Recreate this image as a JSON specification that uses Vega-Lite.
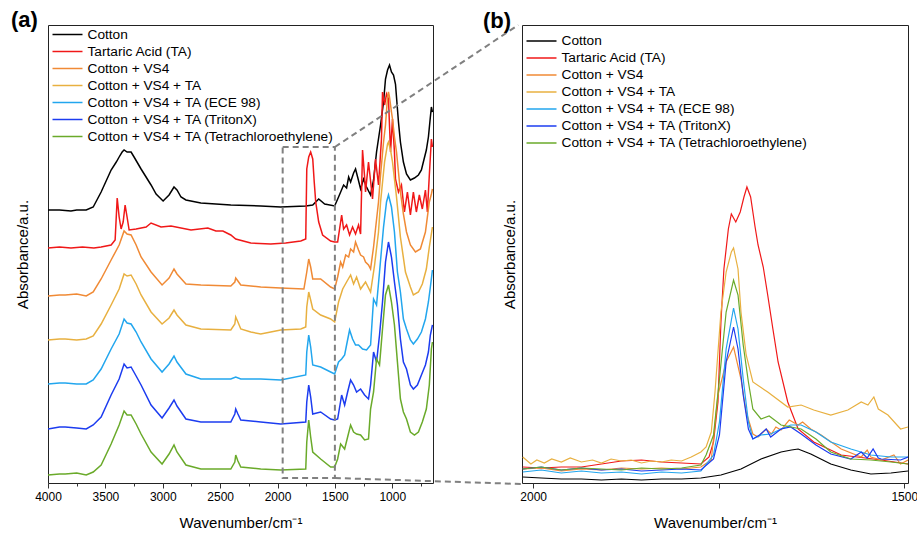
{
  "$schema": "https://vega.github.io/schema/vega-lite/v6.json",
  "padding": {"left": 10, "top": 8, "right": 8, "bottom": 5},
  "config": {
    "font": "Liberation Sans",
    "view": {"stroke": "#222222", "strokeWidth": 1},
    "axis": {"grid": false, "domain": false, "labelFontSize": 12, "labelColor": "#000000", "titleFontSize": 15, "titleFontWeight": "normal", "titleColor": "#000000", "tickColor": "#333333", "labelFlush": false, "labelOverlap": false},
    "title": {"fontSize": 22, "fontWeight": "bold", "anchor": "start", "frame": "group", "offset": 0, "baseline": "alphabetic", "color": "#000000"},
    "legend": {"orient": "none", "padding": 0, "symbolType": "M-2,0H2", "symbolSize": 225, "symbolStrokeWidth": 1.5, "labelFontSize": 13.7, "labelLimit": 400, "labelOffset": 11.5, "rowPadding": 1, "labelColor": "#000000"}
  },
  "datasets": {
    "a": [
      {"s":"Cotton","w":4000,"v":273},{"s":"Cotton","w":3900,"v":273},{"s":"Cotton","w":3800,"v":272},{"s":"Cotton","w":3750,"v":273},{"s":"Cotton","w":3700,"v":273},{"s":"Cotton","w":3667,"v":273},{"s":"Cotton","w":3606,"v":276},{"s":"Cotton","w":3537,"v":291},{"s":"Cotton","w":3450,"v":313},{"s":"Cotton","w":3405,"v":321},{"s":"Cotton","w":3380,"v":326},{"s":"Cotton","w":3354,"v":331},{"s":"Cotton","w":3337,"v":333},{"s":"Cotton","w":3311,"v":331},{"s":"Cotton","w":3276,"v":331},{"s":"Cotton","w":3250,"v":326},{"s":"Cotton","w":3189,"v":314},{"s":"Cotton","w":3102,"v":298},{"s":"Cotton","w":3058,"v":289},{"s":"Cotton","w":2997,"v":282},{"s":"Cotton","w":2945,"v":288},{"s":"Cotton","w":2902,"v":296},{"s":"Cotton","w":2876,"v":293},{"s":"Cotton","w":2841,"v":286},{"s":"Cotton","w":2798,"v":283},{"s":"Cotton","w":2668,"v":280},{"s":"Cotton","w":2407,"v":278},{"s":"Cotton","w":2146,"v":277},{"s":"Cotton","w":1972,"v":276},{"s":"Cotton","w":1754,"v":277},{"s":"Cotton","w":1693,"v":278},{"s":"Cotton","w":1641,"v":284},{"s":"Cotton","w":1589,"v":279},{"s":"Cotton","w":1502,"v":277},{"s":"Cotton","w":1468,"v":286},{"s":"Cotton","w":1424,"v":298},{"s":"Cotton","w":1398,"v":295},{"s":"Cotton","w":1380,"v":306},{"s":"Cotton","w":1363,"v":301},{"s":"Cotton","w":1337,"v":310},{"s":"Cotton","w":1320,"v":314},{"s":"Cotton","w":1302,"v":306},{"s":"Cotton","w":1276,"v":294},{"s":"Cotton","w":1250,"v":304},{"s":"Cotton","w":1224,"v":296},{"s":"Cotton","w":1189,"v":288},{"s":"Cotton","w":1163,"v":303},{"s":"Cotton","w":1137,"v":331},{"s":"Cotton","w":1102,"v":358},{"s":"Cotton","w":1076,"v":381},{"s":"Cotton","w":1059,"v":404},{"s":"Cotton","w":1041,"v":413},{"s":"Cotton","w":1024,"v":418},{"s":"Cotton","w":1007,"v":411},{"s":"Cotton","w":989,"v":408},{"s":"Cotton","w":972,"v":399},{"s":"Cotton","w":946,"v":361},{"s":"Cotton","w":929,"v":341},{"s":"Cotton","w":903,"v":321},{"s":"Cotton","w":876,"v":309},{"s":"Cotton","w":842,"v":303},{"s":"Cotton","w":807,"v":305},{"s":"Cotton","w":772,"v":308},{"s":"Cotton","w":746,"v":313},{"s":"Cotton","w":729,"v":321},{"s":"Cotton","w":703,"v":333},{"s":"Cotton","w":685,"v":346},{"s":"Cotton","w":668,"v":366},{"s":"Cotton","w":659,"v":376},{"s":"Cotton","w":650,"v":371},

      {"s":"Tartaric Acid (TA)","w":4000,"v":235},{"s":"Tartaric Acid (TA)","w":3900,"v":236},{"s":"Tartaric Acid (TA)","w":3800,"v":235},{"s":"Tartaric Acid (TA)","w":3700,"v":236},{"s":"Tartaric Acid (TA)","w":3600,"v":235},{"s":"Tartaric Acid (TA)","w":3537,"v":236},{"s":"Tartaric Acid (TA)","w":3450,"v":238},{"s":"Tartaric Acid (TA)","w":3415,"v":243},{"s":"Tartaric Acid (TA)","w":3397,"v":285},{"s":"Tartaric Acid (TA)","w":3380,"v":266},{"s":"Tartaric Acid (TA)","w":3363,"v":254},{"s":"Tartaric Acid (TA)","w":3345,"v":261},{"s":"Tartaric Acid (TA)","w":3328,"v":278},{"s":"Tartaric Acid (TA)","w":3311,"v":266},{"s":"Tartaric Acid (TA)","w":3293,"v":253},{"s":"Tartaric Acid (TA)","w":3232,"v":254},{"s":"Tartaric Acid (TA)","w":3145,"v":256},{"s":"Tartaric Acid (TA)","w":3102,"v":260},{"s":"Tartaric Acid (TA)","w":3015,"v":256},{"s":"Tartaric Acid (TA)","w":2928,"v":257},{"s":"Tartaric Acid (TA)","w":2754,"v":253},{"s":"Tartaric Acid (TA)","w":2607,"v":255},{"s":"Tartaric Acid (TA)","w":2537,"v":252},{"s":"Tartaric Acid (TA)","w":2476,"v":252},{"s":"Tartaric Acid (TA)","w":2407,"v":248},{"s":"Tartaric Acid (TA)","w":2364,"v":244},{"s":"Tartaric Acid (TA)","w":2233,"v":240},{"s":"Tartaric Acid (TA)","w":2059,"v":239},{"s":"Tartaric Acid (TA)","w":1929,"v":240},{"s":"Tartaric Acid (TA)","w":1797,"v":242},{"s":"Tartaric Acid (TA)","w":1754,"v":244},{"s":"Tartaric Acid (TA)","w":1745,"v":314},{"s":"Tartaric Acid (TA)","w":1728,"v":326},{"s":"Tartaric Acid (TA)","w":1711,"v":331},{"s":"Tartaric Acid (TA)","w":1693,"v":324},{"s":"Tartaric Acid (TA)","w":1680,"v":301},{"s":"Tartaric Acid (TA)","w":1667,"v":281},{"s":"Tartaric Acid (TA)","w":1641,"v":261},{"s":"Tartaric Acid (TA)","w":1607,"v":248},{"s":"Tartaric Acid (TA)","w":1537,"v":242},{"s":"Tartaric Acid (TA)","w":1502,"v":241},{"s":"Tartaric Acid (TA)","w":1476,"v":241},{"s":"Tartaric Acid (TA)","w":1441,"v":268},{"s":"Tartaric Acid (TA)","w":1424,"v":254},{"s":"Tartaric Acid (TA)","w":1398,"v":258},{"s":"Tartaric Acid (TA)","w":1372,"v":248},{"s":"Tartaric Acid (TA)","w":1346,"v":256},{"s":"Tartaric Acid (TA)","w":1320,"v":249},{"s":"Tartaric Acid (TA)","w":1294,"v":258},{"s":"Tartaric Acid (TA)","w":1276,"v":249},{"s":"Tartaric Acid (TA)","w":1259,"v":333},{"s":"Tartaric Acid (TA)","w":1241,"v":306},{"s":"Tartaric Acid (TA)","w":1233,"v":291},{"s":"Tartaric Acid (TA)","w":1207,"v":321},{"s":"Tartaric Acid (TA)","w":1172,"v":284},{"s":"Tartaric Acid (TA)","w":1146,"v":324},{"s":"Tartaric Acid (TA)","w":1120,"v":298},{"s":"Tartaric Acid (TA)","w":1094,"v":344},{"s":"Tartaric Acid (TA)","w":1085,"v":391},{"s":"Tartaric Acid (TA)","w":1067,"v":378},{"s":"Tartaric Acid (TA)","w":1050,"v":389},{"s":"Tartaric Acid (TA)","w":1033,"v":384},{"s":"Tartaric Acid (TA)","w":1015,"v":331},{"s":"Tartaric Acid (TA)","w":998,"v":364},{"s":"Tartaric Acid (TA)","w":981,"v":331},{"s":"Tartaric Acid (TA)","w":972,"v":304},{"s":"Tartaric Acid (TA)","w":946,"v":291},{"s":"Tartaric Acid (TA)","w":920,"v":298},{"s":"Tartaric Acid (TA)","w":894,"v":271},{"s":"Tartaric Acid (TA)","w":868,"v":291},{"s":"Tartaric Acid (TA)","w":842,"v":268},{"s":"Tartaric Acid (TA)","w":816,"v":291},{"s":"Tartaric Acid (TA)","w":790,"v":271},{"s":"Tartaric Acid (TA)","w":764,"v":288},{"s":"Tartaric Acid (TA)","w":738,"v":274},{"s":"Tartaric Acid (TA)","w":711,"v":293},{"s":"Tartaric Acid (TA)","w":694,"v":271},{"s":"Tartaric Acid (TA)","w":677,"v":308},{"s":"Tartaric Acid (TA)","w":659,"v":344},{"s":"Tartaric Acid (TA)","w":650,"v":336},

      {"s":"Cotton + VS4","w":4000,"v":187},{"s":"Cotton + VS4","w":3900,"v":188},{"s":"Cotton + VS4","w":3850,"v":188},{"s":"Cotton + VS4","w":3750,"v":189},{"s":"Cotton + VS4","w":3667,"v":187},{"s":"Cotton + VS4","w":3606,"v":191},{"s":"Cotton + VS4","w":3537,"v":204},{"s":"Cotton + VS4","w":3450,"v":223},{"s":"Cotton + VS4","w":3380,"v":238},{"s":"Cotton + VS4","w":3337,"v":252},{"s":"Cotton + VS4","w":3311,"v":249},{"s":"Cotton + VS4","w":3276,"v":248},{"s":"Cotton + VS4","w":3232,"v":238},{"s":"Cotton + VS4","w":3189,"v":226},{"s":"Cotton + VS4","w":3102,"v":211},{"s":"Cotton + VS4","w":3006,"v":198},{"s":"Cotton + VS4","w":2945,"v":205},{"s":"Cotton + VS4","w":2902,"v":214},{"s":"Cotton + VS4","w":2876,"v":209},{"s":"Cotton + VS4","w":2798,"v":199},{"s":"Cotton + VS4","w":2668,"v":198},{"s":"Cotton + VS4","w":2407,"v":197},{"s":"Cotton + VS4","w":2372,"v":201},{"s":"Cotton + VS4","w":2364,"v":205},{"s":"Cotton + VS4","w":2345,"v":202},{"s":"Cotton + VS4","w":2320,"v":198},{"s":"Cotton + VS4","w":2146,"v":196},{"s":"Cotton + VS4","w":1972,"v":195},{"s":"Cotton + VS4","w":1770,"v":194},{"s":"Cotton + VS4","w":1745,"v":211},{"s":"Cotton + VS4","w":1728,"v":224},{"s":"Cotton + VS4","w":1711,"v":216},{"s":"Cotton + VS4","w":1693,"v":204},{"s":"Cotton + VS4","w":1624,"v":204},{"s":"Cotton + VS4","w":1537,"v":196},{"s":"Cotton + VS4","w":1502,"v":194},{"s":"Cotton + VS4","w":1476,"v":206},{"s":"Cotton + VS4","w":1450,"v":221},{"s":"Cotton + VS4","w":1432,"v":216},{"s":"Cotton + VS4","w":1406,"v":228},{"s":"Cotton + VS4","w":1380,"v":226},{"s":"Cotton + VS4","w":1363,"v":234},{"s":"Cotton + VS4","w":1337,"v":231},{"s":"Cotton + VS4","w":1320,"v":241},{"s":"Cotton + VS4","w":1294,"v":233},{"s":"Cotton + VS4","w":1276,"v":228},{"s":"Cotton + VS4","w":1250,"v":226},{"s":"Cotton + VS4","w":1233,"v":221},{"s":"Cotton + VS4","w":1207,"v":218},{"s":"Cotton + VS4","w":1189,"v":214},{"s":"Cotton + VS4","w":1163,"v":236},{"s":"Cotton + VS4","w":1146,"v":254},{"s":"Cotton + VS4","w":1120,"v":281},{"s":"Cotton + VS4","w":1102,"v":308},{"s":"Cotton + VS4","w":1076,"v":341},{"s":"Cotton + VS4","w":1059,"v":358},{"s":"Cotton + VS4","w":1041,"v":386},{"s":"Cotton + VS4","w":1033,"v":391},{"s":"Cotton + VS4","w":1024,"v":386},{"s":"Cotton + VS4","w":1007,"v":371},{"s":"Cotton + VS4","w":998,"v":364},{"s":"Cotton + VS4","w":981,"v":346},{"s":"Cotton + VS4","w":963,"v":331},{"s":"Cotton + VS4","w":946,"v":311},{"s":"Cotton + VS4","w":929,"v":291},{"s":"Cotton + VS4","w":903,"v":269},{"s":"Cotton + VS4","w":876,"v":251},{"s":"Cotton + VS4","w":842,"v":238},{"s":"Cotton + VS4","w":798,"v":231},{"s":"Cotton + VS4","w":755,"v":234},{"s":"Cotton + VS4","w":711,"v":251},{"s":"Cotton + VS4","w":677,"v":281},{"s":"Cotton + VS4","w":659,"v":289},{"s":"Cotton + VS4","w":650,"v":294},

      {"s":"Cotton + VS4 + TA","w":4000,"v":143},{"s":"Cotton + VS4 + TA","w":3900,"v":144},{"s":"Cotton + VS4 + TA","w":3850,"v":144},{"s":"Cotton + VS4 + TA","w":3750,"v":143},{"s":"Cotton + VS4 + TA","w":3667,"v":144},{"s":"Cotton + VS4 + TA","w":3606,"v":147},{"s":"Cotton + VS4 + TA","w":3537,"v":159},{"s":"Cotton + VS4 + TA","w":3450,"v":178},{"s":"Cotton + VS4 + TA","w":3380,"v":194},{"s":"Cotton + VS4 + TA","w":3337,"v":209},{"s":"Cotton + VS4 + TA","w":3311,"v":207},{"s":"Cotton + VS4 + TA","w":3276,"v":208},{"s":"Cotton + VS4 + TA","w":3232,"v":199},{"s":"Cotton + VS4 + TA","w":3189,"v":188},{"s":"Cotton + VS4 + TA","w":3102,"v":171},{"s":"Cotton + VS4 + TA","w":3006,"v":159},{"s":"Cotton + VS4 + TA","w":2945,"v":165},{"s":"Cotton + VS4 + TA","w":2902,"v":173},{"s":"Cotton + VS4 + TA","w":2876,"v":168},{"s":"Cotton + VS4 + TA","w":2798,"v":158},{"s":"Cotton + VS4 + TA","w":2668,"v":154},{"s":"Cotton + VS4 + TA","w":2407,"v":153},{"s":"Cotton + VS4 + TA","w":2372,"v":159},{"s":"Cotton + VS4 + TA","w":2364,"v":166},{"s":"Cotton + VS4 + TA","w":2345,"v":161},{"s":"Cotton + VS4 + TA","w":2320,"v":154},{"s":"Cotton + VS4 + TA","w":2233,"v":151},{"s":"Cotton + VS4 + TA","w":2146,"v":149},{"s":"Cotton + VS4 + TA","w":2059,"v":151},{"s":"Cotton + VS4 + TA","w":1972,"v":153},{"s":"Cotton + VS4 + TA","w":1797,"v":154},{"s":"Cotton + VS4 + TA","w":1754,"v":156},{"s":"Cotton + VS4 + TA","w":1745,"v":176},{"s":"Cotton + VS4 + TA","w":1728,"v":191},{"s":"Cotton + VS4 + TA","w":1711,"v":183},{"s":"Cotton + VS4 + TA","w":1693,"v":174},{"s":"Cotton + VS4 + TA","w":1624,"v":168},{"s":"Cotton + VS4 + TA","w":1537,"v":164},{"s":"Cotton + VS4 + TA","w":1502,"v":161},{"s":"Cotton + VS4 + TA","w":1468,"v":181},{"s":"Cotton + VS4 + TA","w":1432,"v":194},{"s":"Cotton + VS4 + TA","w":1398,"v":201},{"s":"Cotton + VS4 + TA","w":1363,"v":208},{"s":"Cotton + VS4 + TA","w":1337,"v":199},{"s":"Cotton + VS4 + TA","w":1311,"v":206},{"s":"Cotton + VS4 + TA","w":1276,"v":194},{"s":"Cotton + VS4 + TA","w":1233,"v":201},{"s":"Cotton + VS4 + TA","w":1189,"v":191},{"s":"Cotton + VS4 + TA","w":1154,"v":218},{"s":"Cotton + VS4 + TA","w":1120,"v":251},{"s":"Cotton + VS4 + TA","w":1102,"v":281},{"s":"Cotton + VS4 + TA","w":1067,"v":321},{"s":"Cotton + VS4 + TA","w":1041,"v":339},{"s":"Cotton + VS4 + TA","w":1033,"v":341},{"s":"Cotton + VS4 + TA","w":1015,"v":333},{"s":"Cotton + VS4 + TA","w":998,"v":321},{"s":"Cotton + VS4 + TA","w":963,"v":286},{"s":"Cotton + VS4 + TA","w":929,"v":246},{"s":"Cotton + VS4 + TA","w":885,"v":211},{"s":"Cotton + VS4 + TA","w":842,"v":196},{"s":"Cotton + VS4 + TA","w":816,"v":188},{"s":"Cotton + VS4 + TA","w":772,"v":191},{"s":"Cotton + VS4 + TA","w":738,"v":199},{"s":"Cotton + VS4 + TA","w":703,"v":214},{"s":"Cotton + VS4 + TA","w":677,"v":236},{"s":"Cotton + VS4 + TA","w":650,"v":256},

      {"s":"Cotton + VS4 + TA (ECE 98)","w":4000,"v":99},{"s":"Cotton + VS4 + TA (ECE 98)","w":3900,"v":100},{"s":"Cotton + VS4 + TA (ECE 98)","w":3850,"v":100},{"s":"Cotton + VS4 + TA (ECE 98)","w":3750,"v":99},{"s":"Cotton + VS4 + TA (ECE 98)","w":3667,"v":99},{"s":"Cotton + VS4 + TA (ECE 98)","w":3606,"v":103},{"s":"Cotton + VS4 + TA (ECE 98)","w":3537,"v":114},{"s":"Cotton + VS4 + TA (ECE 98)","w":3450,"v":134},{"s":"Cotton + VS4 + TA (ECE 98)","w":3380,"v":149},{"s":"Cotton + VS4 + TA (ECE 98)","w":3337,"v":164},{"s":"Cotton + VS4 + TA (ECE 98)","w":3311,"v":160},{"s":"Cotton + VS4 + TA (ECE 98)","w":3276,"v":159},{"s":"Cotton + VS4 + TA (ECE 98)","w":3232,"v":151},{"s":"Cotton + VS4 + TA (ECE 98)","w":3189,"v":141},{"s":"Cotton + VS4 + TA (ECE 98)","w":3102,"v":124},{"s":"Cotton + VS4 + TA (ECE 98)","w":3006,"v":111},{"s":"Cotton + VS4 + TA (ECE 98)","w":2945,"v":119},{"s":"Cotton + VS4 + TA (ECE 98)","w":2902,"v":127},{"s":"Cotton + VS4 + TA (ECE 98)","w":2876,"v":121},{"s":"Cotton + VS4 + TA (ECE 98)","w":2798,"v":109},{"s":"Cotton + VS4 + TA (ECE 98)","w":2668,"v":104},{"s":"Cotton + VS4 + TA (ECE 98)","w":2407,"v":104},{"s":"Cotton + VS4 + TA (ECE 98)","w":2364,"v":106},{"s":"Cotton + VS4 + TA (ECE 98)","w":2320,"v":104},{"s":"Cotton + VS4 + TA (ECE 98)","w":2146,"v":104},{"s":"Cotton + VS4 + TA (ECE 98)","w":1972,"v":103},{"s":"Cotton + VS4 + TA (ECE 98)","w":1754,"v":108},{"s":"Cotton + VS4 + TA (ECE 98)","w":1745,"v":131},{"s":"Cotton + VS4 + TA (ECE 98)","w":1728,"v":148},{"s":"Cotton + VS4 + TA (ECE 98)","w":1711,"v":136},{"s":"Cotton + VS4 + TA (ECE 98)","w":1693,"v":118},{"s":"Cotton + VS4 + TA (ECE 98)","w":1624,"v":116},{"s":"Cotton + VS4 + TA (ECE 98)","w":1537,"v":111},{"s":"Cotton + VS4 + TA (ECE 98)","w":1502,"v":109},{"s":"Cotton + VS4 + TA (ECE 98)","w":1468,"v":121},{"s":"Cotton + VS4 + TA (ECE 98)","w":1441,"v":124},{"s":"Cotton + VS4 + TA (ECE 98)","w":1415,"v":128},{"s":"Cotton + VS4 + TA (ECE 98)","w":1398,"v":138},{"s":"Cotton + VS4 + TA (ECE 98)","w":1372,"v":153},{"s":"Cotton + VS4 + TA (ECE 98)","w":1346,"v":144},{"s":"Cotton + VS4 + TA (ECE 98)","w":1320,"v":138},{"s":"Cotton + VS4 + TA (ECE 98)","w":1294,"v":138},{"s":"Cotton + VS4 + TA (ECE 98)","w":1259,"v":134},{"s":"Cotton + VS4 + TA (ECE 98)","w":1224,"v":133},{"s":"Cotton + VS4 + TA (ECE 98)","w":1189,"v":138},{"s":"Cotton + VS4 + TA (ECE 98)","w":1163,"v":184},{"s":"Cotton + VS4 + TA (ECE 98)","w":1137,"v":178},{"s":"Cotton + VS4 + TA (ECE 98)","w":1111,"v":211},{"s":"Cotton + VS4 + TA (ECE 98)","w":1076,"v":256},{"s":"Cotton + VS4 + TA (ECE 98)","w":1050,"v":281},{"s":"Cotton + VS4 + TA (ECE 98)","w":1033,"v":288},{"s":"Cotton + VS4 + TA (ECE 98)","w":1007,"v":276},{"s":"Cotton + VS4 + TA (ECE 98)","w":981,"v":251},{"s":"Cotton + VS4 + TA (ECE 98)","w":955,"v":211},{"s":"Cotton + VS4 + TA (ECE 98)","w":929,"v":191},{"s":"Cotton + VS4 + TA (ECE 98)","w":903,"v":164},{"s":"Cotton + VS4 + TA (ECE 98)","w":876,"v":154},{"s":"Cotton + VS4 + TA (ECE 98)","w":842,"v":143},{"s":"Cotton + VS4 + TA (ECE 98)","w":816,"v":139},{"s":"Cotton + VS4 + TA (ECE 98)","w":781,"v":144},{"s":"Cotton + VS4 + TA (ECE 98)","w":746,"v":151},{"s":"Cotton + VS4 + TA (ECE 98)","w":711,"v":164},{"s":"Cotton + VS4 + TA (ECE 98)","w":685,"v":181},{"s":"Cotton + VS4 + TA (ECE 98)","w":668,"v":196},{"s":"Cotton + VS4 + TA (ECE 98)","w":650,"v":213},

      {"s":"Cotton + VS4 + TA (TritonX)","w":4000,"v":54},{"s":"Cotton + VS4 + TA (TritonX)","w":3900,"v":56},{"s":"Cotton + VS4 + TA (TritonX)","w":3850,"v":56},{"s":"Cotton + VS4 + TA (TritonX)","w":3750,"v":55},{"s":"Cotton + VS4 + TA (TritonX)","w":3667,"v":54},{"s":"Cotton + VS4 + TA (TritonX)","w":3606,"v":58},{"s":"Cotton + VS4 + TA (TritonX)","w":3537,"v":66},{"s":"Cotton + VS4 + TA (TritonX)","w":3450,"v":88},{"s":"Cotton + VS4 + TA (TritonX)","w":3380,"v":104},{"s":"Cotton + VS4 + TA (TritonX)","w":3337,"v":119},{"s":"Cotton + VS4 + TA (TritonX)","w":3311,"v":115},{"s":"Cotton + VS4 + TA (TritonX)","w":3276,"v":116},{"s":"Cotton + VS4 + TA (TritonX)","w":3232,"v":107},{"s":"Cotton + VS4 + TA (TritonX)","w":3189,"v":98},{"s":"Cotton + VS4 + TA (TritonX)","w":3102,"v":78},{"s":"Cotton + VS4 + TA (TritonX)","w":3006,"v":65},{"s":"Cotton + VS4 + TA (TritonX)","w":2945,"v":75},{"s":"Cotton + VS4 + TA (TritonX)","w":2902,"v":83},{"s":"Cotton + VS4 + TA (TritonX)","w":2876,"v":77},{"s":"Cotton + VS4 + TA (TritonX)","w":2798,"v":64},{"s":"Cotton + VS4 + TA (TritonX)","w":2668,"v":61},{"s":"Cotton + VS4 + TA (TritonX)","w":2407,"v":61},{"s":"Cotton + VS4 + TA (TritonX)","w":2372,"v":69},{"s":"Cotton + VS4 + TA (TritonX)","w":2364,"v":74},{"s":"Cotton + VS4 + TA (TritonX)","w":2345,"v":69},{"s":"Cotton + VS4 + TA (TritonX)","w":2320,"v":63},{"s":"Cotton + VS4 + TA (TritonX)","w":2146,"v":61},{"s":"Cotton + VS4 + TA (TritonX)","w":1972,"v":59},{"s":"Cotton + VS4 + TA (TritonX)","w":1754,"v":61},{"s":"Cotton + VS4 + TA (TritonX)","w":1745,"v":81},{"s":"Cotton + VS4 + TA (TritonX)","w":1728,"v":98},{"s":"Cotton + VS4 + TA (TritonX)","w":1711,"v":86},{"s":"Cotton + VS4 + TA (TritonX)","w":1693,"v":69},{"s":"Cotton + VS4 + TA (TritonX)","w":1624,"v":71},{"s":"Cotton + VS4 + TA (TritonX)","w":1537,"v":64},{"s":"Cotton + VS4 + TA (TritonX)","w":1502,"v":63},{"s":"Cotton + VS4 + TA (TritonX)","w":1476,"v":64},{"s":"Cotton + VS4 + TA (TritonX)","w":1441,"v":88},{"s":"Cotton + VS4 + TA (TritonX)","w":1415,"v":78},{"s":"Cotton + VS4 + TA (TritonX)","w":1389,"v":91},{"s":"Cotton + VS4 + TA (TritonX)","w":1363,"v":103},{"s":"Cotton + VS4 + TA (TritonX)","w":1337,"v":98},{"s":"Cotton + VS4 + TA (TritonX)","w":1311,"v":91},{"s":"Cotton + VS4 + TA (TritonX)","w":1276,"v":94},{"s":"Cotton + VS4 + TA (TritonX)","w":1241,"v":88},{"s":"Cotton + VS4 + TA (TritonX)","w":1207,"v":84},{"s":"Cotton + VS4 + TA (TritonX)","w":1189,"v":98},{"s":"Cotton + VS4 + TA (TritonX)","w":1163,"v":131},{"s":"Cotton + VS4 + TA (TritonX)","w":1137,"v":121},{"s":"Cotton + VS4 + TA (TritonX)","w":1111,"v":148},{"s":"Cotton + VS4 + TA (TritonX)","w":1085,"v":181},{"s":"Cotton + VS4 + TA (TritonX)","w":1059,"v":221},{"s":"Cotton + VS4 + TA (TritonX)","w":1033,"v":241},{"s":"Cotton + VS4 + TA (TritonX)","w":1007,"v":226},{"s":"Cotton + VS4 + TA (TritonX)","w":981,"v":201},{"s":"Cotton + VS4 + TA (TritonX)","w":955,"v":178},{"s":"Cotton + VS4 + TA (TritonX)","w":929,"v":144},{"s":"Cotton + VS4 + TA (TritonX)","w":903,"v":121},{"s":"Cotton + VS4 + TA (TritonX)","w":876,"v":114},{"s":"Cotton + VS4 + TA (TritonX)","w":842,"v":98},{"s":"Cotton + VS4 + TA (TritonX)","w":816,"v":94},{"s":"Cotton + VS4 + TA (TritonX)","w":781,"v":98},{"s":"Cotton + VS4 + TA (TritonX)","w":746,"v":108},{"s":"Cotton + VS4 + TA (TritonX)","w":711,"v":118},{"s":"Cotton + VS4 + TA (TritonX)","w":685,"v":131},{"s":"Cotton + VS4 + TA (TritonX)","w":668,"v":148},{"s":"Cotton + VS4 + TA (TritonX)","w":650,"v":158},

      {"s":"Cotton + VS4 + TA (Tetrachloroethylene)","w":4000,"v":8},{"s":"Cotton + VS4 + TA (Tetrachloroethylene)","w":3900,"v":9},{"s":"Cotton + VS4 + TA (Tetrachloroethylene)","w":3850,"v":9},{"s":"Cotton + VS4 + TA (Tetrachloroethylene)","w":3750,"v":10},{"s":"Cotton + VS4 + TA (Tetrachloroethylene)","w":3667,"v":8},{"s":"Cotton + VS4 + TA (Tetrachloroethylene)","w":3606,"v":11},{"s":"Cotton + VS4 + TA (Tetrachloroethylene)","w":3537,"v":18},{"s":"Cotton + VS4 + TA (Tetrachloroethylene)","w":3450,"v":39},{"s":"Cotton + VS4 + TA (Tetrachloroethylene)","w":3380,"v":58},{"s":"Cotton + VS4 + TA (Tetrachloroethylene)","w":3337,"v":72},{"s":"Cotton + VS4 + TA (Tetrachloroethylene)","w":3311,"v":68},{"s":"Cotton + VS4 + TA (Tetrachloroethylene)","w":3276,"v":68},{"s":"Cotton + VS4 + TA (Tetrachloroethylene)","w":3232,"v":59},{"s":"Cotton + VS4 + TA (Tetrachloroethylene)","w":3189,"v":49},{"s":"Cotton + VS4 + TA (Tetrachloroethylene)","w":3102,"v":31},{"s":"Cotton + VS4 + TA (Tetrachloroethylene)","w":3006,"v":19},{"s":"Cotton + VS4 + TA (Tetrachloroethylene)","w":2945,"v":29},{"s":"Cotton + VS4 + TA (Tetrachloroethylene)","w":2902,"v":38},{"s":"Cotton + VS4 + TA (Tetrachloroethylene)","w":2876,"v":31},{"s":"Cotton + VS4 + TA (Tetrachloroethylene)","w":2798,"v":18},{"s":"Cotton + VS4 + TA (Tetrachloroethylene)","w":2668,"v":14},{"s":"Cotton + VS4 + TA (Tetrachloroethylene)","w":2407,"v":14},{"s":"Cotton + VS4 + TA (Tetrachloroethylene)","w":2372,"v":21},{"s":"Cotton + VS4 + TA (Tetrachloroethylene)","w":2364,"v":28},{"s":"Cotton + VS4 + TA (Tetrachloroethylene)","w":2345,"v":22},{"s":"Cotton + VS4 + TA (Tetrachloroethylene)","w":2320,"v":16},{"s":"Cotton + VS4 + TA (Tetrachloroethylene)","w":2146,"v":14},{"s":"Cotton + VS4 + TA (Tetrachloroethylene)","w":1972,"v":13},{"s":"Cotton + VS4 + TA (Tetrachloroethylene)","w":1754,"v":14},{"s":"Cotton + VS4 + TA (Tetrachloroethylene)","w":1745,"v":41},{"s":"Cotton + VS4 + TA (Tetrachloroethylene)","w":1728,"v":63},{"s":"Cotton + VS4 + TA (Tetrachloroethylene)","w":1711,"v":46},{"s":"Cotton + VS4 + TA (Tetrachloroethylene)","w":1693,"v":31},{"s":"Cotton + VS4 + TA (Tetrachloroethylene)","w":1624,"v":24},{"s":"Cotton + VS4 + TA (Tetrachloroethylene)","w":1537,"v":16},{"s":"Cotton + VS4 + TA (Tetrachloroethylene)","w":1502,"v":16},{"s":"Cotton + VS4 + TA (Tetrachloroethylene)","w":1476,"v":24},{"s":"Cotton + VS4 + TA (Tetrachloroethylene)","w":1450,"v":39},{"s":"Cotton + VS4 + TA (Tetrachloroethylene)","w":1415,"v":34},{"s":"Cotton + VS4 + TA (Tetrachloroethylene)","w":1389,"v":46},{"s":"Cotton + VS4 + TA (Tetrachloroethylene)","w":1363,"v":58},{"s":"Cotton + VS4 + TA (Tetrachloroethylene)","w":1337,"v":51},{"s":"Cotton + VS4 + TA (Tetrachloroethylene)","w":1311,"v":49},{"s":"Cotton + VS4 + TA (Tetrachloroethylene)","w":1276,"v":48},{"s":"Cotton + VS4 + TA (Tetrachloroethylene)","w":1241,"v":43},{"s":"Cotton + VS4 + TA (Tetrachloroethylene)","w":1207,"v":44},{"s":"Cotton + VS4 + TA (Tetrachloroethylene)","w":1189,"v":74},{"s":"Cotton + VS4 + TA (Tetrachloroethylene)","w":1163,"v":91},{"s":"Cotton + VS4 + TA (Tetrachloroethylene)","w":1137,"v":124},{"s":"Cotton + VS4 + TA (Tetrachloroethylene)","w":1111,"v":118},{"s":"Cotton + VS4 + TA (Tetrachloroethylene)","w":1085,"v":154},{"s":"Cotton + VS4 + TA (Tetrachloroethylene)","w":1059,"v":188},{"s":"Cotton + VS4 + TA (Tetrachloroethylene)","w":1033,"v":198},{"s":"Cotton + VS4 + TA (Tetrachloroethylene)","w":1007,"v":181},{"s":"Cotton + VS4 + TA (Tetrachloroethylene)","w":981,"v":158},{"s":"Cotton + VS4 + TA (Tetrachloroethylene)","w":955,"v":121},{"s":"Cotton + VS4 + TA (Tetrachloroethylene)","w":929,"v":84},{"s":"Cotton + VS4 + TA (Tetrachloroethylene)","w":903,"v":71},{"s":"Cotton + VS4 + TA (Tetrachloroethylene)","w":876,"v":64},{"s":"Cotton + VS4 + TA (Tetrachloroethylene)","w":842,"v":51},{"s":"Cotton + VS4 + TA (Tetrachloroethylene)","w":807,"v":48},{"s":"Cotton + VS4 + TA (Tetrachloroethylene)","w":772,"v":51},{"s":"Cotton + VS4 + TA (Tetrachloroethylene)","w":738,"v":61},{"s":"Cotton + VS4 + TA (Tetrachloroethylene)","w":703,"v":74},{"s":"Cotton + VS4 + TA (Tetrachloroethylene)","w":677,"v":98},{"s":"Cotton + VS4 + TA (Tetrachloroethylene)","w":659,"v":134},{"s":"Cotton + VS4 + TA (Tetrachloroethylene)","w":650,"v":141}
    ],
    "b": [
      {"s":"Cotton","w":2014,"v":6},{"s":"Cotton","w":1989,"v":5},{"s":"Cotton","w":1962,"v":4},{"s":"Cotton","w":1935,"v":4},{"s":"Cotton","w":1908,"v":3},{"s":"Cotton","w":1881,"v":4},{"s":"Cotton","w":1854,"v":3},{"s":"Cotton","w":1827,"v":4},{"s":"Cotton","w":1800,"v":4},{"s":"Cotton","w":1774,"v":5},{"s":"Cotton","w":1747,"v":8},{"s":"Cotton","w":1720,"v":14},{"s":"Cotton","w":1693,"v":24},{"s":"Cotton","w":1666,"v":31},{"s":"Cotton","w":1652,"v":33},{"s":"Cotton","w":1643,"v":34},{"s":"Cotton","w":1626,"v":29},{"s":"Cotton","w":1599,"v":19},{"s":"Cotton","w":1572,"v":13},{"s":"Cotton","w":1545,"v":9},{"s":"Cotton","w":1518,"v":10},{"s":"Cotton","w":1495,"v":12},

      {"s":"Tartaric Acid (TA)","w":2014,"v":16},{"s":"Tartaric Acid (TA)","w":1989,"v":15},{"s":"Tartaric Acid (TA)","w":1962,"v":16},{"s":"Tartaric Acid (TA)","w":1935,"v":16},{"s":"Tartaric Acid (TA)","w":1908,"v":19},{"s":"Tartaric Acid (TA)","w":1881,"v":22},{"s":"Tartaric Acid (TA)","w":1854,"v":23},{"s":"Tartaric Acid (TA)","w":1827,"v":21},{"s":"Tartaric Acid (TA)","w":1800,"v":20},{"s":"Tartaric Acid (TA)","w":1774,"v":19},{"s":"Tartaric Acid (TA)","w":1763,"v":26},{"s":"Tartaric Acid (TA)","w":1757,"v":41},{"s":"Tartaric Acid (TA)","w":1751,"v":81},{"s":"Tartaric Acid (TA)","w":1747,"v":161},{"s":"Tartaric Acid (TA)","w":1743,"v":214},{"s":"Tartaric Acid (TA)","w":1737,"v":254},{"s":"Tartaric Acid (TA)","w":1733,"v":269},{"s":"Tartaric Acid (TA)","w":1727,"v":261},{"s":"Tartaric Acid (TA)","w":1721,"v":271},{"s":"Tartaric Acid (TA)","w":1716,"v":286},{"s":"Tartaric Acid (TA)","w":1712,"v":296},{"s":"Tartaric Acid (TA)","w":1707,"v":286},{"s":"Tartaric Acid (TA)","w":1701,"v":256},{"s":"Tartaric Acid (TA)","w":1697,"v":238},{"s":"Tartaric Acid (TA)","w":1690,"v":216},{"s":"Tartaric Acid (TA)","w":1684,"v":188},{"s":"Tartaric Acid (TA)","w":1677,"v":154},{"s":"Tartaric Acid (TA)","w":1670,"v":121},{"s":"Tartaric Acid (TA)","w":1657,"v":81},{"s":"Tartaric Acid (TA)","w":1643,"v":54},{"s":"Tartaric Acid (TA)","w":1622,"v":41},{"s":"Tartaric Acid (TA)","w":1585,"v":28},{"s":"Tartaric Acid (TA)","w":1531,"v":23},{"s":"Tartaric Acid (TA)","w":1495,"v":19},

      {"s":"Cotton + VS4","w":2014,"v":14},{"s":"Cotton + VS4","w":1989,"v":15},{"s":"Cotton + VS4","w":1962,"v":12},{"s":"Cotton + VS4","w":1935,"v":14},{"s":"Cotton + VS4","w":1908,"v":13},{"s":"Cotton + VS4","w":1881,"v":15},{"s":"Cotton + VS4","w":1854,"v":14},{"s":"Cotton + VS4","w":1827,"v":15},{"s":"Cotton + VS4","w":1800,"v":14},{"s":"Cotton + VS4","w":1774,"v":16},{"s":"Cotton + VS4","w":1760,"v":23},{"s":"Cotton + VS4","w":1751,"v":88},{"s":"Cotton + VS4","w":1740,"v":121},{"s":"Cotton + VS4","w":1730,"v":136},{"s":"Cotton + VS4","w":1720,"v":104},{"s":"Cotton + VS4","w":1713,"v":71},{"s":"Cotton + VS4","w":1704,"v":49},{"s":"Cotton + VS4","w":1697,"v":46},{"s":"Cotton + VS4","w":1686,"v":54},{"s":"Cotton + VS4","w":1679,"v":49},{"s":"Cotton + VS4","w":1673,"v":56},{"s":"Cotton + VS4","w":1666,"v":53},{"s":"Cotton + VS4","w":1655,"v":63},{"s":"Cotton + VS4","w":1643,"v":58},{"s":"Cotton + VS4","w":1637,"v":61},{"s":"Cotton + VS4","w":1626,"v":54},{"s":"Cotton + VS4","w":1612,"v":48},{"s":"Cotton + VS4","w":1585,"v":34},{"s":"Cotton + VS4","w":1558,"v":26},{"s":"Cotton + VS4","w":1550,"v":33},{"s":"Cotton + VS4","w":1545,"v":26},{"s":"Cotton + VS4","w":1531,"v":23},{"s":"Cotton + VS4","w":1514,"v":28},{"s":"Cotton + VS4","w":1505,"v":19},{"s":"Cotton + VS4","w":1495,"v":23},

      {"s":"Cotton + VS4 + TA","w":2014,"v":26},{"s":"Cotton + VS4 + TA","w":2003,"v":19},{"s":"Cotton + VS4 + TA","w":1995,"v":23},{"s":"Cotton + VS4 + TA","w":1985,"v":20},{"s":"Cotton + VS4 + TA","w":1975,"v":24},{"s":"Cotton + VS4 + TA","w":1962,"v":21},{"s":"Cotton + VS4 + TA","w":1950,"v":25},{"s":"Cotton + VS4 + TA","w":1935,"v":21},{"s":"Cotton + VS4 + TA","w":1920,"v":23},{"s":"Cotton + VS4 + TA","w":1908,"v":20},{"s":"Cotton + VS4 + TA","w":1895,"v":24},{"s":"Cotton + VS4 + TA","w":1881,"v":22},{"s":"Cotton + VS4 + TA","w":1868,"v":23},{"s":"Cotton + VS4 + TA","w":1854,"v":20},{"s":"Cotton + VS4 + TA","w":1841,"v":22},{"s":"Cotton + VS4 + TA","w":1827,"v":21},{"s":"Cotton + VS4 + TA","w":1814,"v":23},{"s":"Cotton + VS4 + TA","w":1800,"v":22},{"s":"Cotton + VS4 + TA","w":1787,"v":26},{"s":"Cotton + VS4 + TA","w":1774,"v":31},{"s":"Cotton + VS4 + TA","w":1767,"v":36},{"s":"Cotton + VS4 + TA","w":1760,"v":51},{"s":"Cotton + VS4 + TA","w":1755,"v":91},{"s":"Cotton + VS4 + TA","w":1747,"v":171},{"s":"Cotton + VS4 + TA","w":1740,"v":211},{"s":"Cotton + VS4 + TA","w":1733,"v":231},{"s":"Cotton + VS4 + TA","w":1730,"v":235},{"s":"Cotton + VS4 + TA","w":1724,"v":214},{"s":"Cotton + VS4 + TA","w":1720,"v":171},{"s":"Cotton + VS4 + TA","w":1713,"v":128},{"s":"Cotton + VS4 + TA","w":1704,"v":101},{"s":"Cotton + VS4 + TA","w":1684,"v":91},{"s":"Cotton + VS4 + TA","w":1657,"v":76},{"s":"Cotton + VS4 + TA","w":1639,"v":78},{"s":"Cotton + VS4 + TA","w":1622,"v":73},{"s":"Cotton + VS4 + TA","w":1599,"v":68},{"s":"Cotton + VS4 + TA","w":1576,"v":73},{"s":"Cotton + VS4 + TA","w":1558,"v":81},{"s":"Cotton + VS4 + TA","w":1549,"v":78},{"s":"Cotton + VS4 + TA","w":1541,"v":86},{"s":"Cotton + VS4 + TA","w":1535,"v":74},{"s":"Cotton + VS4 + TA","w":1522,"v":68},{"s":"Cotton + VS4 + TA","w":1505,"v":54},{"s":"Cotton + VS4 + TA","w":1495,"v":56},

      {"s":"Cotton + VS4 + TA (ECE 98)","w":2014,"v":11},{"s":"Cotton + VS4 + TA (ECE 98)","w":1989,"v":13},{"s":"Cotton + VS4 + TA (ECE 98)","w":1962,"v":10},{"s":"Cotton + VS4 + TA (ECE 98)","w":1935,"v":12},{"s":"Cotton + VS4 + TA (ECE 98)","w":1908,"v":10},{"s":"Cotton + VS4 + TA (ECE 98)","w":1881,"v":11},{"s":"Cotton + VS4 + TA (ECE 98)","w":1854,"v":9},{"s":"Cotton + VS4 + TA (ECE 98)","w":1827,"v":11},{"s":"Cotton + VS4 + TA (ECE 98)","w":1800,"v":10},{"s":"Cotton + VS4 + TA (ECE 98)","w":1774,"v":12},{"s":"Cotton + VS4 + TA (ECE 98)","w":1757,"v":28},{"s":"Cotton + VS4 + TA (ECE 98)","w":1749,"v":61},{"s":"Cotton + VS4 + TA (ECE 98)","w":1740,"v":134},{"s":"Cotton + VS4 + TA (ECE 98)","w":1730,"v":175},{"s":"Cotton + VS4 + TA (ECE 98)","w":1724,"v":154},{"s":"Cotton + VS4 + TA (ECE 98)","w":1717,"v":104},{"s":"Cotton + VS4 + TA (ECE 98)","w":1710,"v":61},{"s":"Cotton + VS4 + TA (ECE 98)","w":1704,"v":44},{"s":"Cotton + VS4 + TA (ECE 98)","w":1693,"v":48},{"s":"Cotton + VS4 + TA (ECE 98)","w":1680,"v":49},{"s":"Cotton + VS4 + TA (ECE 98)","w":1666,"v":54},{"s":"Cotton + VS4 + TA (ECE 98)","w":1653,"v":58},{"s":"Cotton + VS4 + TA (ECE 98)","w":1639,"v":58},{"s":"Cotton + VS4 + TA (ECE 98)","w":1619,"v":51},{"s":"Cotton + VS4 + TA (ECE 98)","w":1599,"v":41},{"s":"Cotton + VS4 + TA (ECE 98)","w":1572,"v":34},{"s":"Cotton + VS4 + TA (ECE 98)","w":1545,"v":28},{"s":"Cotton + VS4 + TA (ECE 98)","w":1518,"v":26},{"s":"Cotton + VS4 + TA (ECE 98)","w":1495,"v":26},

      {"s":"Cotton + VS4 + TA (TritonX)","w":2014,"v":14},{"s":"Cotton + VS4 + TA (TritonX)","w":1989,"v":16},{"s":"Cotton + VS4 + TA (TritonX)","w":1962,"v":13},{"s":"Cotton + VS4 + TA (TritonX)","w":1935,"v":15},{"s":"Cotton + VS4 + TA (TritonX)","w":1908,"v":13},{"s":"Cotton + VS4 + TA (TritonX)","w":1881,"v":14},{"s":"Cotton + VS4 + TA (TritonX)","w":1854,"v":12},{"s":"Cotton + VS4 + TA (TritonX)","w":1827,"v":13},{"s":"Cotton + VS4 + TA (TritonX)","w":1800,"v":14},{"s":"Cotton + VS4 + TA (TritonX)","w":1774,"v":13},{"s":"Cotton + VS4 + TA (TritonX)","w":1757,"v":24},{"s":"Cotton + VS4 + TA (TritonX)","w":1749,"v":48},{"s":"Cotton + VS4 + TA (TritonX)","w":1740,"v":121},{"s":"Cotton + VS4 + TA (TritonX)","w":1730,"v":156},{"s":"Cotton + VS4 + TA (TritonX)","w":1724,"v":134},{"s":"Cotton + VS4 + TA (TritonX)","w":1717,"v":88},{"s":"Cotton + VS4 + TA (TritonX)","w":1710,"v":54},{"s":"Cotton + VS4 + TA (TritonX)","w":1704,"v":44},{"s":"Cotton + VS4 + TA (TritonX)","w":1695,"v":48},{"s":"Cotton + VS4 + TA (TritonX)","w":1686,"v":54},{"s":"Cotton + VS4 + TA (TritonX)","w":1680,"v":46},{"s":"Cotton + VS4 + TA (TritonX)","w":1666,"v":54},{"s":"Cotton + VS4 + TA (TritonX)","w":1653,"v":56},{"s":"Cotton + VS4 + TA (TritonX)","w":1639,"v":49},{"s":"Cotton + VS4 + TA (TritonX)","w":1619,"v":38},{"s":"Cotton + VS4 + TA (TritonX)","w":1599,"v":29},{"s":"Cotton + VS4 + TA (TritonX)","w":1572,"v":24},{"s":"Cotton + VS4 + TA (TritonX)","w":1558,"v":31},{"s":"Cotton + VS4 + TA (TritonX)","w":1550,"v":25},{"s":"Cotton + VS4 + TA (TritonX)","w":1542,"v":34},{"s":"Cotton + VS4 + TA (TritonX)","w":1535,"v":25},{"s":"Cotton + VS4 + TA (TritonX)","w":1531,"v":24},{"s":"Cotton + VS4 + TA (TritonX)","w":1505,"v":23},{"s":"Cotton + VS4 + TA (TritonX)","w":1495,"v":26},

      {"s":"Cotton + VS4 + TA (Tetrachloroethylene)","w":2014,"v":14},{"s":"Cotton + VS4 + TA (Tetrachloroethylene)","w":1989,"v":16},{"s":"Cotton + VS4 + TA (Tetrachloroethylene)","w":1962,"v":13},{"s":"Cotton + VS4 + TA (Tetrachloroethylene)","w":1935,"v":15},{"s":"Cotton + VS4 + TA (Tetrachloroethylene)","w":1908,"v":14},{"s":"Cotton + VS4 + TA (Tetrachloroethylene)","w":1881,"v":13},{"s":"Cotton + VS4 + TA (Tetrachloroethylene)","w":1854,"v":15},{"s":"Cotton + VS4 + TA (Tetrachloroethylene)","w":1827,"v":14},{"s":"Cotton + VS4 + TA (Tetrachloroethylene)","w":1800,"v":15},{"s":"Cotton + VS4 + TA (Tetrachloroethylene)","w":1774,"v":18},{"s":"Cotton + VS4 + TA (Tetrachloroethylene)","w":1767,"v":28},{"s":"Cotton + VS4 + TA (Tetrachloroethylene)","w":1757,"v":48},{"s":"Cotton + VS4 + TA (Tetrachloroethylene)","w":1749,"v":104},{"s":"Cotton + VS4 + TA (Tetrachloroethylene)","w":1740,"v":171},{"s":"Cotton + VS4 + TA (Tetrachloroethylene)","w":1730,"v":203},{"s":"Cotton + VS4 + TA (Tetrachloroethylene)","w":1724,"v":188},{"s":"Cotton + VS4 + TA (Tetrachloroethylene)","w":1717,"v":138},{"s":"Cotton + VS4 + TA (Tetrachloroethylene)","w":1710,"v":101},{"s":"Cotton + VS4 + TA (Tetrachloroethylene)","w":1704,"v":74},{"s":"Cotton + VS4 + TA (Tetrachloroethylene)","w":1693,"v":64},{"s":"Cotton + VS4 + TA (Tetrachloroethylene)","w":1682,"v":67},{"s":"Cotton + VS4 + TA (Tetrachloroethylene)","w":1666,"v":58},{"s":"Cotton + VS4 + TA (Tetrachloroethylene)","w":1639,"v":54},{"s":"Cotton + VS4 + TA (Tetrachloroethylene)","w":1619,"v":44},{"s":"Cotton + VS4 + TA (Tetrachloroethylene)","w":1599,"v":31},{"s":"Cotton + VS4 + TA (Tetrachloroethylene)","w":1572,"v":24},{"s":"Cotton + VS4 + TA (Tetrachloroethylene)","w":1545,"v":23},{"s":"Cotton + VS4 + TA (Tetrachloroethylene)","w":1518,"v":21},{"s":"Cotton + VS4 + TA (Tetrachloroethylene)","w":1495,"v":19}
    ],
    "box": [{"w": 1955, "w2": 1500, "v": 5, "v2": 336}],
    "conn": [{"w": 1500, "v": 336, "w2": -98, "v2": 458}, {"w": 1500, "v": 5, "w2": -124, "v2": -1}]
  },
  "hconcat": [
    {
      "width": 385,
      "height": 458,
      "title": {"text": "(a)", "dx": -37, "dy": 12},
      "layer": [
        {
          "data": {"name": "a"},
          "mark": {"type": "line", "strokeWidth": 1.5, "clip": true},
          "encoding": {
            "x": {"field": "w", "type": "quantitative",
              "scale": {"domain": [645, 4000], "reverse": true, "nice": false, "zero": false},
              "axis": {"title": "Wavenumber/cm⁻¹", "values": [4000, 3750, 3500, 3250, 3000, 2750, 2500, 2250, 2000, 1750, 1500, 1250, 1000, 750], "format": "d", "labelExpr": "datum.value % 500 === 0 ? datum.label : ''", "tickSize": {"condition": {"test": "datum.value % 500 === 0", "value": 5}, "value": 3}, "labelPadding": 3, "titlePadding": 13}},
            "y": {"field": "v", "type": "quantitative",
              "scale": {"domain": [0, 458], "nice": false, "zero": false},
              "axis": {"title": "Absorbance/a.u.", "labels": false, "ticks": false, "titlePadding": 18}},
            "color": {"field": "s", "type": "nominal",
              "scale": {"domain": ["Cotton", "Tartaric Acid (TA)", "Cotton + VS4", "Cotton + VS4 + TA", "Cotton + VS4 + TA (ECE 98)", "Cotton + VS4 + TA (TritonX)", "Cotton + VS4 + TA (Tetrachloroethylene)"],
                        "range": ["#000000", "#f01818", "#f08a35", "#e8b040", "#22a6ee", "#1c3cf0", "#6aaa2a"]},
              "legend": {"title": null, "legendX": 11, "legendY": 1}}
          }
        },
        {
          "data": {"name": "box"},
          "mark": {"type": "rect", "filled": false, "color": "#808080", "strokeDash": [6, 4], "strokeWidth": 2},
          "encoding": {
            "x": {"field": "w", "type": "quantitative",
              "axis": {"title": "Wavenumber/cm⁻¹", "values": [4000, 3750, 3500, 3250, 3000, 2750, 2500, 2250, 2000, 1750, 1500, 1250, 1000, 750], "format": "d", "labelExpr": "datum.value % 500 === 0 ? datum.label : ''", "tickSize": {"condition": {"test": "datum.value % 500 === 0", "value": 5}, "value": 3}, "labelPadding": 3, "titlePadding": 13}},
            "x2": {"field": "w2"},
            "y": {"field": "v", "type": "quantitative"}, "y2": {"field": "v2"}
          }
        },
        {
          "data": {"name": "conn"},
          "mark": {"type": "rule", "color": "#808080", "strokeDash": [6, 4], "strokeWidth": 2, "clip": false},
          "encoding": {
            "x": {"field": "w", "type": "quantitative",
              "axis": {"title": "Wavenumber/cm⁻¹", "values": [4000, 3750, 3500, 3250, 3000, 2750, 2500, 2250, 2000, 1750, 1500, 1250, 1000, 750], "format": "d", "labelExpr": "datum.value % 500 === 0 ? datum.label : ''", "tickSize": {"condition": {"test": "datum.value % 500 === 0", "value": 5}, "value": 3}, "labelPadding": 3, "titlePadding": 13}},
            "x2": {"field": "w2"},
            "y": {"field": "v", "type": "quantitative"}, "y2": {"field": "v2"}
          }
        }
      ]
    },
    {
      "width": 386,
      "height": 458,
      "title": {"text": "(b)", "dx": -39, "dy": 12},
      "data": {"name": "b"},
      "mark": {"type": "line", "strokeWidth": 1.2, "clip": true},
      "encoding": {
        "x": {"field": "w", "type": "quantitative",
          "scale": {"domain": [1495, 2015], "reverse": true, "nice": false, "zero": false},
          "axis": {"title": "Wavenumber/cm⁻¹", "values": [2000, 1750, 1500], "format": "d", "labelExpr": "datum.value % 500 === 0 ? datum.label : ''", "tickSize": 5, "labelPadding": 3, "titlePadding": 13}},
        "y": {"field": "v", "type": "quantitative",
          "scale": {"domain": [0, 458], "nice": false, "zero": false},
          "axis": {"title": "Absorbance/a.u.", "labels": false, "ticks": false, "titlePadding": 5}},
        "color": {"field": "s", "type": "nominal",
          "scale": {"domain": ["Cotton", "Tartaric Acid (TA)", "Cotton + VS4", "Cotton + VS4 + TA", "Cotton + VS4 + TA (ECE 98)", "Cotton + VS4 + TA (TritonX)", "Cotton + VS4 + TA (Tetrachloroethylene)"],
                    "range": ["#000000", "#f01818", "#f08a35", "#e8b040", "#22a6ee", "#1c3cf0", "#6aaa2a"]},
          "legend": {"title": null, "legendX": 11, "legendY": 7.5}}
      }
    }
  ],
  "spacing": 89,
  "bounds": "flush",
  "resolve": {"legend": {"color": "independent"}}
}
